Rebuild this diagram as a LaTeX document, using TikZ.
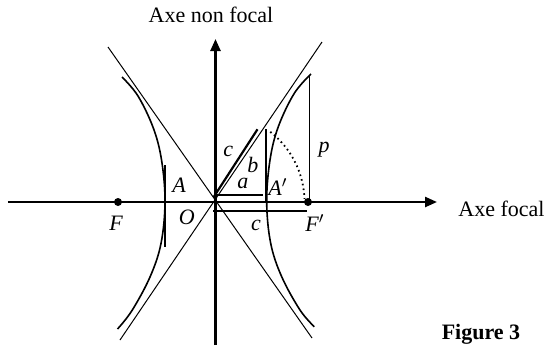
\documentclass[tikz,border=0pt]{standalone}
\usepackage{fontspec}
\setmainfont{Liberation Serif}
\usetikzlibrary{arrows.meta}
\begin{document}
\begin{tikzpicture}[x=0.5pt,y=0.5pt,
  axisline/.style={line width=1.2pt,-{Triangle[length=6pt,width=5pt]}},
  thinline/.style={line width=0.5pt},
  curveline/.style={line width=0.8pt},
  segline/.style={line width=1.1pt},
  dotline/.style={line width=0.9pt,dash pattern=on 0.8pt off 1.6pt},
  lbl/.style={font=\fontsize{11}{13}\selectfont\itshape,inner sep=0pt},
  txt/.style={font=\fontsize{11}{13}\selectfont,inner sep=0pt},
  focus/.style={circle,fill=black,inner sep=0pt,minimum size=4pt}]
\useasboundingbox (-215.5,-143) rectangle (330.5,202);
% reference points
\coordinate (O) at (0,0);
\coordinate (xl) at (-207.5,0);
\coordinate (xr) at (221.5,0);
\coordinate (yb) at (0,-143);
\coordinate (yt) at (0,163);
\coordinate (as1a) at (-95.5,-138);
\coordinate (as1b) at (106.5,160);
\coordinate (as2a) at (-107.5,155);
\coordinate (as2b) at (96.5,-136);
\coordinate (tAa) at (-50.5,37);
\coordinate (tAb) at (-50.5,-44.7);
\coordinate (c1a) at (-2,4.7);
\coordinate (c1b) at (42,72.7);
\coordinate (ba) at (50.5,0);
\coordinate (bb) at (50.5,72.7);
\coordinate (aa) at (1,7);
\coordinate (ab) at (48,7);
\coordinate (c2a) at (-2,-9);
\coordinate (c2b) at (91,-9);
\coordinate (pbot) at (94,0);
\coordinate (ptop) at (94,126.5);
% asymptotes
\draw[thinline] (as1a) -- (as1b);
\draw[thinline] (as2a) -- (as2b);
% hyperbola branches
\draw[curveline] plot[smooth,tension=0.6] coordinates {(95.5,128) (78.8,108.7) (62.8,75.3) (54.5,42) (51.2,0) (55.2,-41.3) (66.2,-74.7) (84.5,-108) (98.8,-124.7)};
\draw[curveline] plot[smooth,tension=0.6] coordinates {(-93.5,125) (-77.5,106) (-62,73.5) (-53.8,41) (-50.5,0) (-54.5,-41.5) (-65.5,-75) (-83.5,-108.5) (-98,-127)};
% axes
\draw[axisline] (xl) -- (xr);
\draw[axisline] (yb) -- (yt);
% segments
\draw[line width=0.65pt] (tAa) -- (tAb);
\draw[segline] (c1a) -- (c1b);
\draw[segline] (ba) -- (bb);
\draw[segline] (aa) -- (ab);
\draw[segline] (c2a) -- (c2b);
\node[focus] (F) at (-97.5,0) {};
\node[focus] (Fp) at (92.5,0) {};
\draw[thinline] (pbot) -- (ptop);
\draw[dotline] (52:89) arc[start angle=52,end angle=2,radius=89];
% labels
\node[lbl] (lA) at (-36.5,17) {A};
\node[lbl] (lO) at (-28.8,-15.3) {O};
\node[lbl] (lF) at (-99.5,-21.3) {F};
\node[lbl] (lFp) at (99.5,-21.3) {F$'$};
\node[lbl] (lc1) at (12.8,50.3) {c};
\node[lbl] (lb) at (37.5,37) {b};
\node[lbl] (la) at (27.5,18.7) {a};
\node[lbl] (lAp) at (62.5,15.3) {A$'$};
\node[lbl] (lp) at (108.5,52) {p};
\node[lbl] (lc2) at (40.5,-23) {c};
\node[txt,anchor=base] (ty) at (-4.5,179.3) {Axe non focal};
\node[txt,anchor=base west] (tx) at (242.5,-14) {Axe focal};
\node[txt,font=\fontsize{11}{13}\selectfont\bfseries,anchor=base] (fig) at (265.5,-137.5) {Figure 3};
\end{tikzpicture}
\end{document}
